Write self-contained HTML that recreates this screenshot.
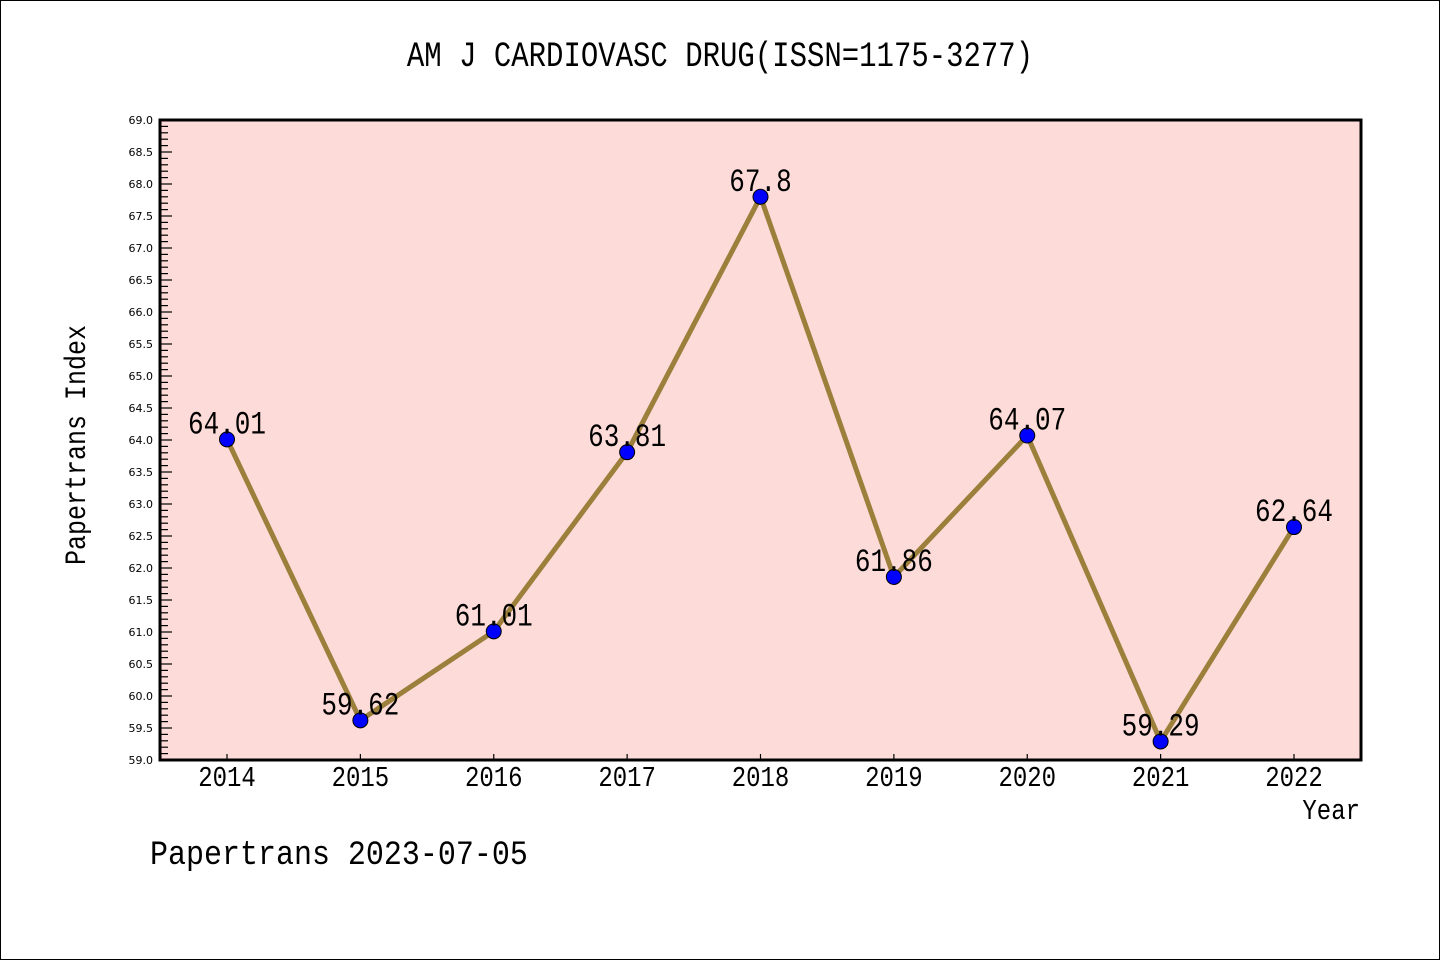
<!DOCTYPE html>
<html><head><meta charset="utf-8"><style>
html,body{margin:0;padding:0;background:#fff}
svg{display:block}
text{font-family:"Liberation Mono","DejaVu Sans Mono",monospace;fill:#000}
</style></head><body>
<svg id="chart" width="1440" height="960" xmlns="http://www.w3.org/2000/svg">
<rect x="0.5" y="0.5" width="1439" height="959" fill="#fff" stroke="#000" stroke-width="1"/>
<g transform="translate(720,66) scale(1,1.2)"><text x="0" y="0" text-anchor="middle" font-size="29">AM J CARDIOVASC DRUG(ISSN=1175-3277)</text></g>
<rect x="160" y="120" width="1201" height="640" fill="#fddbd8"/>
<g id="axes"></g>
<g id="series"></g>
<rect x="160" y="120" width="1201" height="640" fill="none" stroke="#000" stroke-width="3"/>
<g transform="translate(1360,819) scale(1,1.2)"><text x="0" y="0" text-anchor="end" font-size="24">Year</text></g>
<text transform="translate(85,445) rotate(-90) scale(1,1.2)" text-anchor="middle" font-size="25">Papertrans Index</text>
<g transform="translate(150,864) scale(1,1.15)"><text x="0" y="0" font-size="30">Papertrans 2023-07-05</text></g>
</svg>
<script>
const years = ["2014","2015","2016","2017","2018","2019","2020","2021","2022"];
const values = [64.01,59.62,61.01,63.81,67.8,61.86,64.07,59.29,62.64];
const labels = ["64.01","59.62","61.01","63.81","67.8","61.86","64.07","59.29","62.64"];
const yTicks = [59.0,59.5,60.0,60.5,61.0,61.5,62.0,62.5,63.0,63.5,64.0,64.5,65.0,65.5,66.0,66.5,67.0,67.5,68.0,68.5,69.0];

const NS="http://www.w3.org/2000/svg";
const L=160,R=1361,T=120,B=760,yMin=59,yMax=69;
const x0=227,x1=1294;
function xs(i){return x0+(x1-x0)*i/(years.length-1);}
function ys(v){return B-(v-yMin)/(yMax-yMin)*(B-T);}
function mk(tag,attrs,parent){const e=document.createElementNS(NS,tag);for(const k in attrs)e.setAttribute(k,attrs[k]);parent.appendChild(e);return e;}
const axes=document.getElementById('axes'),series=document.getElementById('series');
for(let k=0;k<=100;k++){
  const v=yMin+k*0.1;
  const major=k%5===0;
  const t=mk('line',{x1:L,x2:L+(major?12:8),y1:ys(v),y2:ys(v),stroke:'#000','stroke-width':1.2},axes);
  
  
}
yTicks.forEach(v=>{
  const t=mk('text',{x:L-7,y:ys(v)+4,'text-anchor':'end','font-size':11,style:'font-family:"DejaVu Sans",sans-serif'},axes);
  t.textContent=v.toFixed(1);
  
  
});
years.forEach((y,i)=>{
  const tk=mk('line',{x1:xs(i),x2:xs(i),y1:B,y2:B-6,stroke:'#000','stroke-width':1.2},axes);
  
  
  const g=mk('g',{transform:'translate('+xs(i)+','+(B+26)+') scale(1,1.2)'},axes);
  const t=mk('text',{x:0,y:0,'text-anchor':'middle','font-size':24},g);
  t.textContent=y;
  
  
});
const pts=values.map((v,i)=>xs(i)+','+ys(v)).join(' ');
const line=mk('polyline',{points:pts,fill:'none',stroke:'#9b7f3b','stroke-width':5,'stroke-linejoin':'miter'},series);


values.forEach((v,i)=>{
  const c=mk('circle',{cx:xs(i),cy:ys(v),r:7.5,fill:'#0000ff',stroke:'#000','stroke-width':1},series);
  
  
});
values.forEach((v,i)=>{
  const g=mk('g',{transform:'translate('+xs(i)+','+(ys(v)-6)+') scale(1,1.25)'},series);
  const t=mk('text',{x:0,y:0,'text-anchor':'middle','font-size':26},g);
  t.textContent=labels[i];
  
  
});
</script>
</body></html>
